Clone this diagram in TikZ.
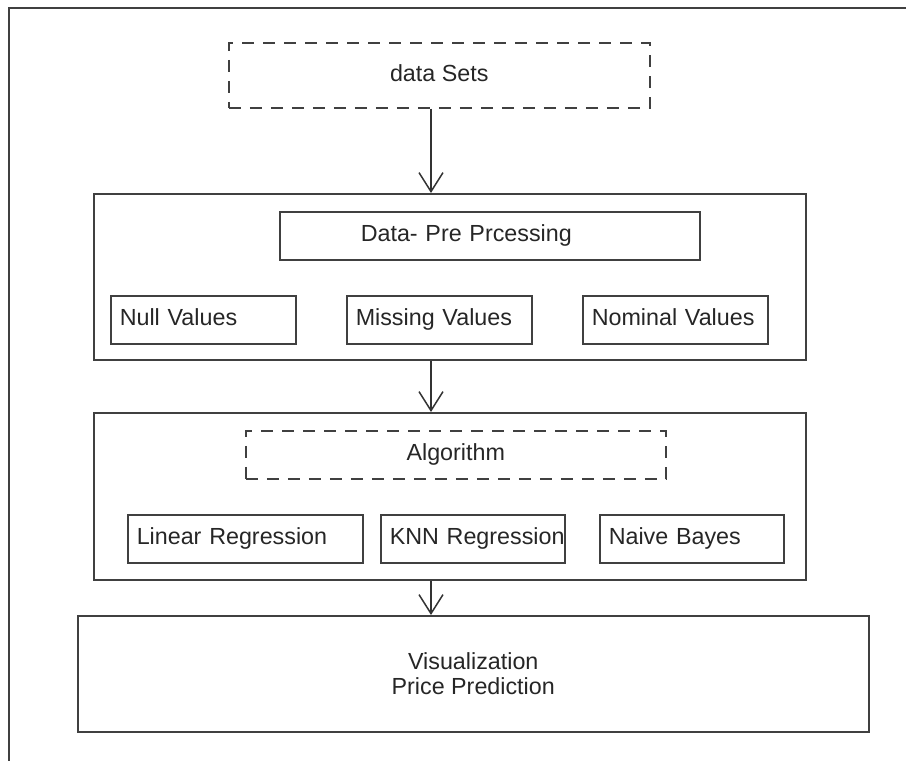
\documentclass[tikz,border=0pt]{standalone}
\usepackage{fontspec}
\setmainfont{Liberation Sans}
\usetikzlibrary{arrows.meta}

\begin{document}
\begin{tikzpicture}[x=1pt, y=-1pt,
  every node/.style={font=\fontsize{23.3}{25}\selectfont, text=black!85},
  frame/.style={draw=black!75, line width=1.5pt, anchor=north west, inner sep=0pt},
  dbox/.style={frame, dash pattern=on 12pt off 9pt, text height=17pt, text depth=5pt},
  cell/.style={frame, minimum height=48pt, text height=17pt, text depth=5pt, inner xsep=9pt, text width=#1, align=left},
  flow/.style={draw=black!80, line width=1.5pt, -{Straight Barb[length=19pt, width=24pt, line width=1.5pt]}}]
\useasboundingbox (0,0) rectangle (906,761);
\draw[black!75, line width=1.5pt] (9,761) -- (9,8) -- (906,8);
% input
\node[dbox, minimum width=421pt, minimum height=65pt] (dsets) at (228,42) {data Sets};
% pre-processing block
\node[frame, minimum width=712pt, minimum height=166pt] (prep) at (93,193) {};
\node[cell=258pt, inner xsep=81pt] (prept) at (279,211) {Data- Pre Prcessing};
\foreach \n/\x/\t in {null/110/Null Values, miss/346/Missing Values, nom/582/Nominal Values}
  \node[cell=167pt] (\n) at (\x,295) {\t};
% algorithm block
\node[frame, minimum width=712pt, minimum height=167pt] (algo) at (93,412) {};
\node[dbox, minimum width=420pt, minimum height=48pt] (algot) at (245,430) {Algorithm};
\node[cell=217pt] (lin) at (127,514) {Linear Regression};
\node[cell=166pt] (knn) at (380,514) {\mbox{KNN Regression}};
\node[cell=166pt] (nb) at (599,514) {Naive Bayes};
% output
\node[frame, minimum width=791pt, minimum height=116pt, align=center] (vis) at (77,615) {Visualization\\Price Prediction};
\coordinate (axis) at (431,0);
\draw[flow] (dsets.south -| axis) -- (prep.north -| axis);
\draw[flow] (prep.south -| axis) -- (algo.north -| axis);
\draw[flow] (algo.south -| axis) -- (vis.north -| axis);
\end{tikzpicture}
\end{document}
